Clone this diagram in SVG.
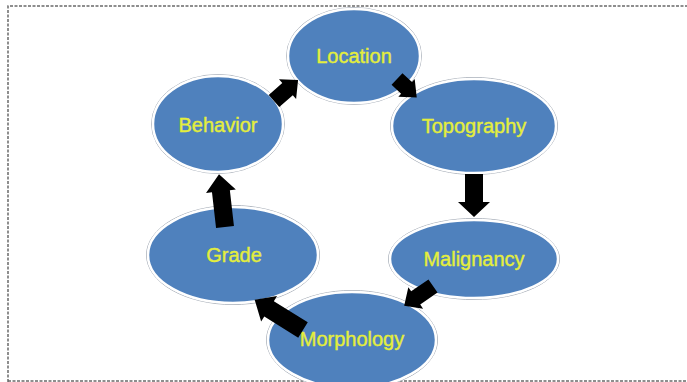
<svg xmlns="http://www.w3.org/2000/svg" width="687" height="382" viewBox="0 0 687 382">
<style>
.frame{fill:none;stroke:#6a6a6a;stroke-width:1.5;stroke-dasharray:3 1.5}
.halo{fill:none;stroke:#a9b0ba;stroke-width:1}
.node{fill:#4f81bd;stroke:#ffffff;stroke-width:2.5}
.lbl{font-family:"Liberation Sans",Arial,sans-serif;font-size:20px;fill:#e4ee3c;stroke:#e4ee3c;stroke-width:0.4;text-anchor:middle}
.arr{fill:#000000;stroke:none}
</style>
<rect width="687" height="382" fill="#ffffff"/>
<path class="frame" d="M8,382 L8,6 L687,6"/>
<path class="frame" d="M8,381 L687,381"/>
<g id="location">
<ellipse class="halo" cx="354" cy="56" rx="67.5" ry="48.5"/>
<ellipse class="node" cx="354" cy="56" rx="66" ry="47"/>
<text class="lbl" x="354" y="63">Location</text>
</g>
<g id="topography">
<ellipse class="halo" cx="474" cy="126" rx="83.5" ry="48.5"/>
<ellipse class="node" cx="474" cy="126" rx="82" ry="47"/>
<text class="lbl" x="474" y="133">Topography</text>
</g>
<g id="malignancy">
<ellipse class="halo" cx="474" cy="259" rx="85.5" ry="40.5"/>
<ellipse class="node" cx="474" cy="259" rx="84" ry="39"/>
<text class="lbl" x="474" y="266">Malignancy</text>
</g>
<g id="morphology">
<ellipse class="halo" cx="352" cy="340" rx="85.5" ry="49.5"/>
<ellipse class="node" cx="352" cy="340" rx="84" ry="48"/>
<text class="lbl" x="352" y="346">Morphology</text>
</g>
<g id="grade">
<ellipse class="halo" cx="233" cy="255" rx="86.5" ry="49.5"/>
<ellipse class="node" cx="233" cy="255" rx="85" ry="48"/>
<text class="lbl" x="234" y="262">Grade</text>
</g>
<g id="behavior">
<ellipse class="halo" cx="218" cy="124" rx="66.5" ry="49.5"/>
<ellipse class="node" cx="218" cy="124" rx="65" ry="48"/>
<text class="lbl" x="218" y="132">Behavior</text>
</g>
<g id="connectors">
<path class="arr" transform="translate(274,101) rotate(-41.2)" d="M0,-8 L18,-8 L18,-13 L32,0 L18,13 L18,8 L0,8 Z"/>
<path class="arr" transform="translate(397,79) rotate(43)" d="M0,-8 L13,-8 L13,-12 L27,0 L13,12 L13,8 L0,8 Z"/>
<path class="arr" transform="translate(474,174) rotate(90)" d="M0,-9 L28,-9 L28,-16 L43,0 L28,16 L28,9 L0,9 Z"/>
<path class="arr" transform="translate(433,286) rotate(145.4)" d="M0,-8 L21,-8 L21,-13 L35,0 L21,13 L21,8 L0,8 Z"/>
<path class="arr" transform="translate(303,330) rotate(-148)" d="M0,-9 L40,-9 L40,-15 L57,0 L40,15 L40,9 L0,9 Z"/>
<path class="arr" transform="translate(225,227) rotate(-96.5)" d="M0,-9 L36,-9 L36,-15 L53,0 L36,15 L36,9 L0,9 Z"/>
</g>
</svg>
